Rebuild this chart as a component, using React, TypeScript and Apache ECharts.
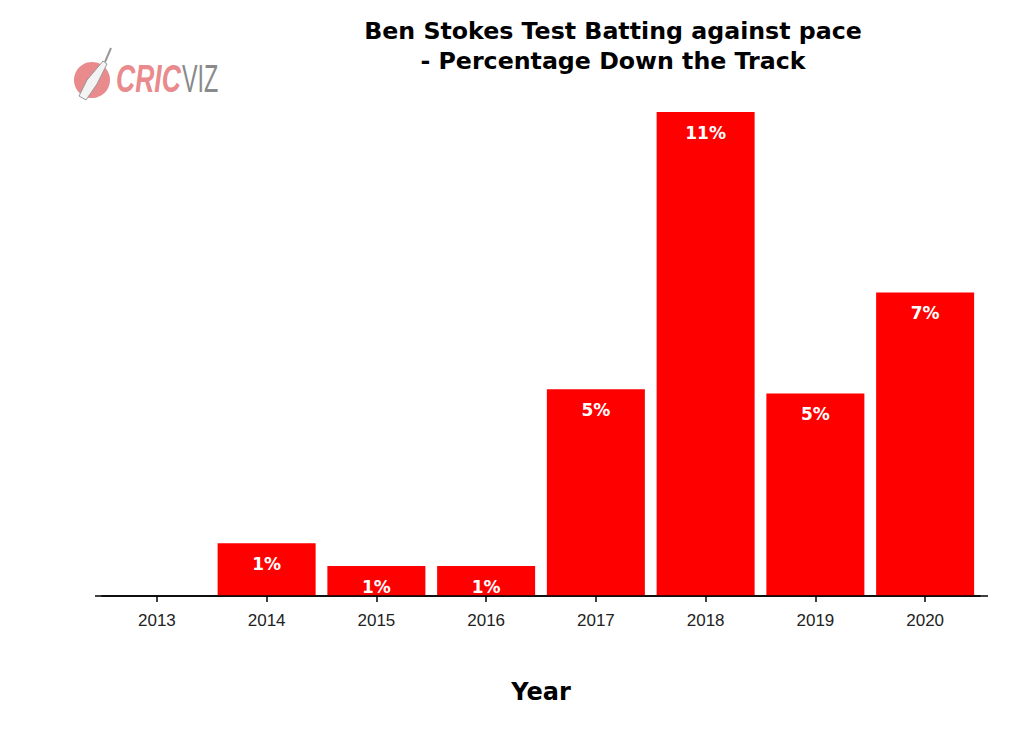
import React, { useEffect, useRef } from "react";
import * as echarts from "echarts";

const years = ["2013", "2014", "2015", "2016", "2017", "2018", "2019", "2020"];
const pctDownTrack = [0, 1.2, 0.68, 0.68, 4.7, 11.0, 4.6, 6.9];
const titleLines = ["Ben Stokes Test Batting against pace", "- Percentage Down the Track"];
const xAxisTitle = "Year";

export default function App() {
  const ref = useRef<HTMLDivElement>(null);
  useEffect(() => {
    const chart = echarts.init(ref.current!, null, { renderer: "svg" });
    chart.setOption({
      animation: false,
      backgroundColor: "#ffffff",
      title: {
        text: titleLines.join("\n"),
        left: 608,
        textAlign: "center",
        top: 11,
        textStyle: {
          fontFamily: "DejaVu Sans",
          fontWeight: "bold",
          fontSize: 23.7,
          lineHeight: 30,
          color: "#000",
        },
      },
      grid: { left: 102, right: 44, top: 112, bottom: 149 },
      xAxis: {
        type: "category",
        data: years,
        name: xAxisTitle,
        nameLocation: "middle",
        nameGap: 84,
        nameTextStyle: {
          fontFamily: "DejaVu Sans",
          fontWeight: "bold",
          fontSize: 24,
          color: "#000",
        },
        axisLine: { show: true, lineStyle: { color: "#000", width: 1.5 } },
        axisTick: { show: true, alignWithLabel: true, length: 6, lineStyle: { color: "#000", width: 1.5 } },
        axisLabel: {
          fontFamily: "Liberation Sans",
          fontSize: 17,
          color: "#222",
          margin: 16,
        },
      },
      yAxis: {
        type: "value",
        min: 0,
        max: 11,
        show: false,
        splitLine: { show: false },
      },
      series: [
        {
          type: "bar",
          data: pctDownTrack,
          barCategoryGap: "10.7%",
          itemStyle: { color: "#ff0000" },
          label: {
            show: true,
            position: "insideTop",
            distance: 12,
            formatter: (p: any) => (p.value > 0 ? Math.round(p.value) + "%" : ""),
            fontFamily: "DejaVu Sans",
            fontWeight: "bold",
            fontSize: 17,
            color: "#ffffff",
          },
        },
      ],
      graphic: [
        {
          type: "line",
          shape: { x1: 95, y1: 596, x2: 988, y2: 596 },
          style: { stroke: "#000", lineWidth: 1.5 },
          z: 10,
        },
        {
          type: "circle",
          shape: { cx: 92, cy: 80, r: 18 },
          style: { fill: "#e98a8c" },
        },
        {
          type: "polygon",
          shape: { points: [[103, 61], [107, 64], [97, 84], [86, 100], [79, 96], [87, 80]] },
          style: { fill: "#f3f3f3", stroke: "#999", lineWidth: 1 },
        },
        {
          type: "line",
          shape: { x1: 105, y1: 62, x2: 111, y2: 48 },
          style: { stroke: "#999", lineWidth: 2 },
        },
        {
          type: "text",
          x: 116,
          y: 59,
          scaleX: 0.68,
          style: {
            text: "CRIC",
            fontFamily: "Liberation Sans",
            fontWeight: "bold",
            fontStyle: "italic",
            fontSize: 39,
            fill: "#e98a8c",
          },
        },
        {
          type: "text",
          x: 182,
          y: 59,
          scaleX: 0.6,
          style: {
            text: "VIZ",
            fontFamily: "Liberation Sans",
            fontSize: 39,
            fill: "#8a8a8a",
          },
        },
      ],
    });
    return () => chart.dispose();
  }, []);
  return <div ref={ref} style={{ width: 1024, height: 745, position: "absolute", left: 0, top: 0 }} />;
}
